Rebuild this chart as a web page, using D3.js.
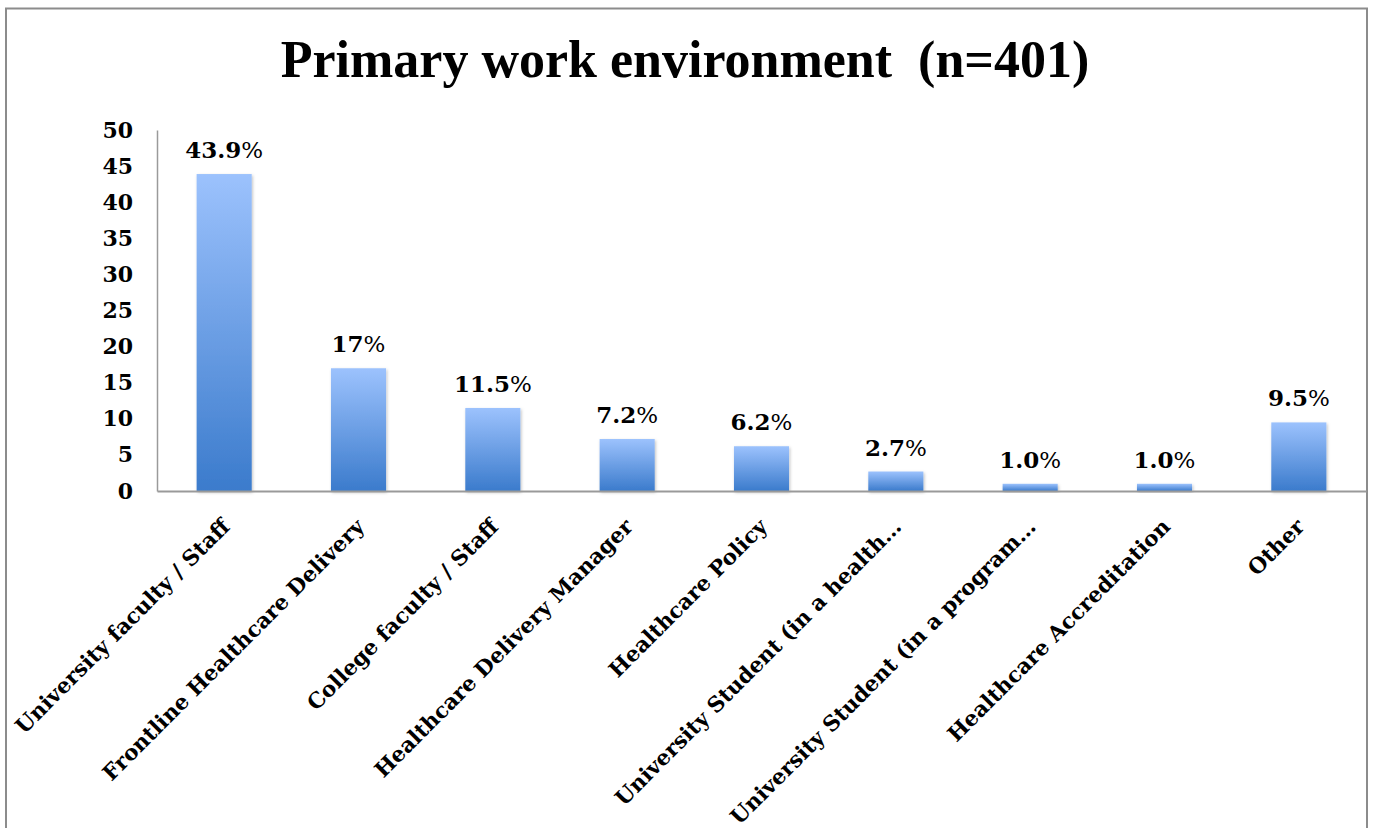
<!DOCTYPE html>
<html>
<head>
<meta charset="utf-8">
<script src="https://cdn.jsdelivr.net/npm/d3@7"></script>
<style>
  html, body { margin: 0; padding: 0; background: #fff; }
  svg { display: block; }
</style>
</head>
<body>
<svg id="chart" width="1373" height="828"></svg>
<script>
// Survey responses: primary work environment, share of respondents (%)
const categories = [
  "University faculty / Staff",
  "Frontline Healthcare Delivery",
  "College faculty / Staff",
  "Healthcare Delivery Manager",
  "Healthcare Policy",
  "University Student (in a health…",
  "University Student (in a program…",
  "Healthcare Accreditation",
  "Other"
];
const values = [43.9, 17, 11.5, 7.2, 6.2, 2.7, 1.0, 1.0, 9.5];
const valueLabels = ["43.9", "17", "11.5", "7.2", "6.2", "2.7", "1.0", "1.0", "9.5"];
const yTicks = [0, 5, 10, 15, 20, 25, 30, 35, 40, 45, 50];
const titleText = "Primary work environment  (n=401)";

const svg = d3.select("#chart");
const plot = { left: 157, right: 1366, top: 130, bottom: 491 };

// Outer frame
svg.append("rect")
  .attr("x", 6).attr("y", 8.5)
  .attr("width", 1361).attr("height", 900)
  .attr("fill", "#fff")
  .attr("stroke", "#8c8c8c").attr("stroke-width", 2);

// Gradient and soft shadow for bars
const defs = svg.append("defs");
const grad = defs.append("linearGradient")
  .attr("id", "barGrad").attr("x1", 0).attr("y1", 0).attr("x2", 0).attr("y2", 1);
grad.append("stop").attr("offset", "0%").attr("stop-color", "#9cc2fd");
grad.append("stop").attr("offset", "100%").attr("stop-color", "#3b7bcc");
const shadow = defs.append("filter").attr("id", "barShadow")
  .attr("x", "-20%").attr("y", "-20%").attr("width", "140%").attr("height", "140%");
shadow.append("feDropShadow")
  .attr("dx", 1).attr("dy", 1.5).attr("stdDeviation", 1.5)
  .attr("flood-color", "#000").attr("flood-opacity", 0.25);

// Title
svg.append("text")
  .attr("x", 685).attr("y", 77)
  .attr("text-anchor", "middle")
  .style("white-space", "pre")
  .attr("font-family", "'Liberation Serif', serif")
  .attr("font-weight", "bold")
  .attr("font-size", 52)
  .attr("fill", "#000")
  .text(titleText);

const x = d3.scaleBand()
  .domain(categories)
  .range([plot.left, plot.right])
  .paddingInner(0.59)
  .paddingOuter(0.295);

const y = d3.scaleLinear()
  .domain([0, 50])
  .range([plot.bottom, plot.top]);

// Y axis
const yAxis = svg.append("g")
  .attr("transform", `translate(${plot.left},0)`)
  .call(d3.axisLeft(y).tickValues(yTicks).tickSize(0).tickPadding(24));
yAxis.select(".domain").attr("stroke", "#9a9a9a").attr("stroke-width", 1.5);
yAxis.selectAll("text")
  .attr("font-family", "'DejaVu Serif', serif")
  .attr("font-weight", "bold")
  .attr("font-size", 22)
  .attr("fill", "#000");

// Bars
svg.append("g").selectAll("rect")
  .data(values)
  .join("rect")
  .attr("x", (d, i) => x(categories[i]))
  .attr("y", d => y(d))
  .attr("width", x.bandwidth())
  .attr("height", d => y(0) - y(d))
  .attr("fill", "url(#barGrad)")
  .attr("filter", "url(#barShadow)");

// X axis line
const xAxis = svg.append("g")
  .attr("transform", `translate(0,${plot.bottom})`)
  .call(d3.axisBottom(x).tickSize(0).tickFormat(""));
xAxis.select(".domain").attr("stroke", "#9a9a9a").attr("stroke-width", 2);

// Category labels, rotated
svg.append("g").selectAll("text")
  .data(categories)
  .join("text")
  .attr("transform", d => `translate(${x(d) + x.bandwidth() / 2 + 7},${plot.bottom + 37}) rotate(-45)`)
  .attr("text-anchor", "end")
  .attr("font-family", "'DejaVu Serif', serif")
  .attr("font-weight", "bold")
  .attr("font-size", 21.5)
  .attr("fill", "#000")
  .text(d => d);

// Value labels
const vl = svg.append("g").selectAll("text")
  .data(values)
  .join("text")
  .attr("x", (d, i) => x(categories[i]) + x.bandwidth() / 2)
  .attr("y", d => y(d) - 16)
  .attr("text-anchor", "middle")
  .attr("font-family", "'DejaVu Serif', serif")
  .attr("font-size", 23)
  .attr("fill", "#000");
vl.append("tspan").attr("font-weight", "bold").text((d, i) => valueLabels[i]);
vl.append("tspan").attr("font-weight", "normal").text("%");
</script>
</body>
</html>
